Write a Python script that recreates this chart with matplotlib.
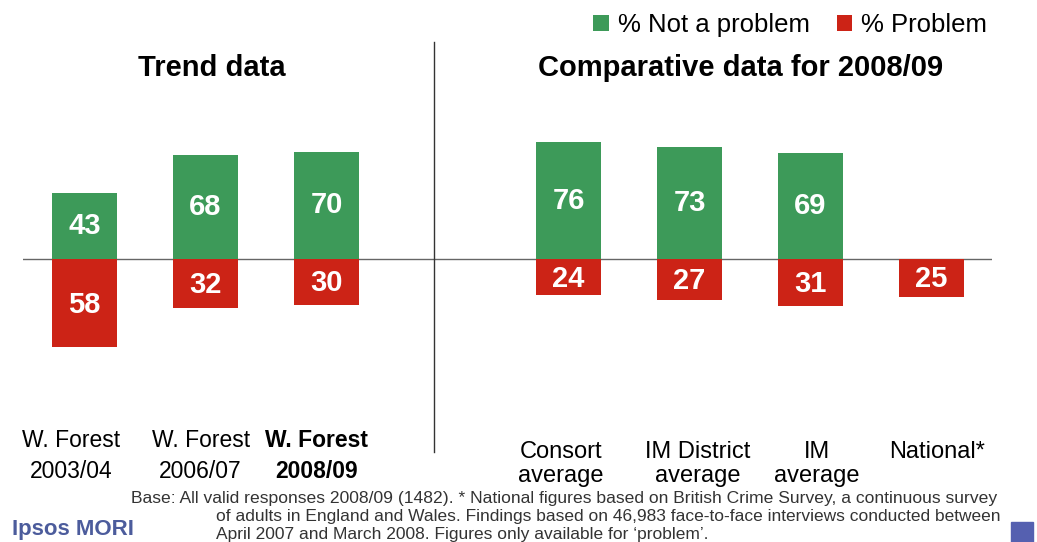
import matplotlib
matplotlib.use('Agg')
from matplotlib import pyplot as plt
from matplotlib import transforms
from matplotlib.patches import Rectangle
import numpy as np

plt.rcParams['font.family'] = ['Liberation Sans', 'DejaVu Sans']

# data
categories = ['W. Forest\n2003/04', 'W. Forest\n2006/07', 'W. Forest\n2008/09',
              'Consort\naverage', 'IM District\naverage', 'IM\naverage', 'National*']
not_problem = [43, 68, 70, 76, 73, 69, np.nan]
problem = [58, 32, 30, 24, 27, 31, 25]

GREEN = '#3d9a59'
RED = '#cc2316'

x = np.array([0, 1, 2, 4, 5, 6, 7])

fig = plt.figure(figsize=(10.37, 5.42), dpi=100)
# baseline in pixels: y=258.7, 1.53 px per unit
ax = fig.add_axes([23 / 1037, (542 - 460) / 542, (992 - 23) / 1037, 420 / 542])
ax.set_xlim(-0.508, 7.5)
ax.set_ylim((258.7 - 460) / 1.53, (258.7 - 40) / 1.53)
ax.axis('off')

b1 = ax.bar(x, not_problem, width=0.537, color=GREEN, label='% Not a problem')
b2 = ax.bar(x, -np.array(problem), width=0.537, color=RED, label='% Problem')

for xi, v in zip(x, not_problem):
    if not np.isnan(v):
        ax.text(xi, v / 2, f'{v:.0f}', ha='center', va='center', color='white',
                fontsize=21, fontweight='bold')
for xi, v in zip(x, problem):
    ax.text(xi, -v / 2 - 1, f'{v}', ha='center', va='center', color='white',
            fontsize=21, fontweight='bold')

ax.axhline(0, color='#666666', lw=1, zorder=0)
ax.axvline(2.885, ymin=0.019, ymax=0.995, color='#333333', lw=1)

# category labels under the bars
trans = transforms.blended_transform_factory(ax.transData, fig.transFigure)
label_dx = [-0.11, -0.04, -0.08, -0.06, 0.07, 0.05, 0.05]
for i, (xi, lab) in enumerate(zip(x, categories)):
    if i < 3:
        ax.text(xi + label_dx[i], 1 - 456 / 542, lab, transform=trans, ha='center', va='center',
                fontsize=16.5, linespacing=1.4, fontweight='bold' if i == 2 else 'normal')
    else:
        ax.text(xi + label_dx[i], 1 - 464 / 542 if '\n' in lab else 1 - 452 / 542, lab,
                transform=trans, ha='center', va='center', fontsize=17, linespacing=1.1)

fig.text(212 / 1037, 1 - 68 / 542, 'Trend data', ha='center', va='center',
         fontsize=21, fontweight='bold')
fig.text(741 / 1037, 1 - 68 / 542, 'Comparative data for 2008/09', ha='center', va='center',
         fontsize=21, fontweight='bold')

fig.legend(handles=[b1, b2], loc='center right', bbox_to_anchor=(987 / 1037, 1 - 25 / 542),
           ncol=2, frameon=False, fontsize=18.5, handlelength=0.6, handleheight=0.6,
           handletextpad=0.35, columnspacing=1.05, borderpad=0, borderaxespad=0)

note_font = ['Liberation Sans Narrow', 'Liberation Sans', 'DejaVu Sans']
fig.text(131 / 1037, 1 - 499 / 542,
         'Base: All valid responses 2008/09 (1482). * National figures based on British Crime Survey, '
         'a continuous survey', ha='left', va='center', fontsize=12.6, color='#333333', family=note_font)
fig.text(216 / 1037, 1 - 517 / 542,
         'of adults in England and Wales. Findings based on 46,983 face-to-face interviews conducted between',
         ha='left', va='center', fontsize=12.5, color='#333333', family=note_font)
fig.text(216 / 1037, 1 - 534 / 542,
         "April 2007 and March 2008. Figures only available for \u2018problem\u2019.",
         ha='left', va='center', fontsize=12.5, color='#333333', family=note_font)

fig.text(12 / 1037, 1 - 530 / 542, 'Ipsos MORI', ha='left', va='center', fontsize=16,
         color='#4c5c9c', fontweight='semibold', family=note_font)
fig.patches.append(Rectangle((1011 / 1037, 0), 22 / 1037, 20 / 542, transform=fig.transFigure,
                             color='#5560b0', figure=fig))

plt.savefig('out.png', dpi=100)
